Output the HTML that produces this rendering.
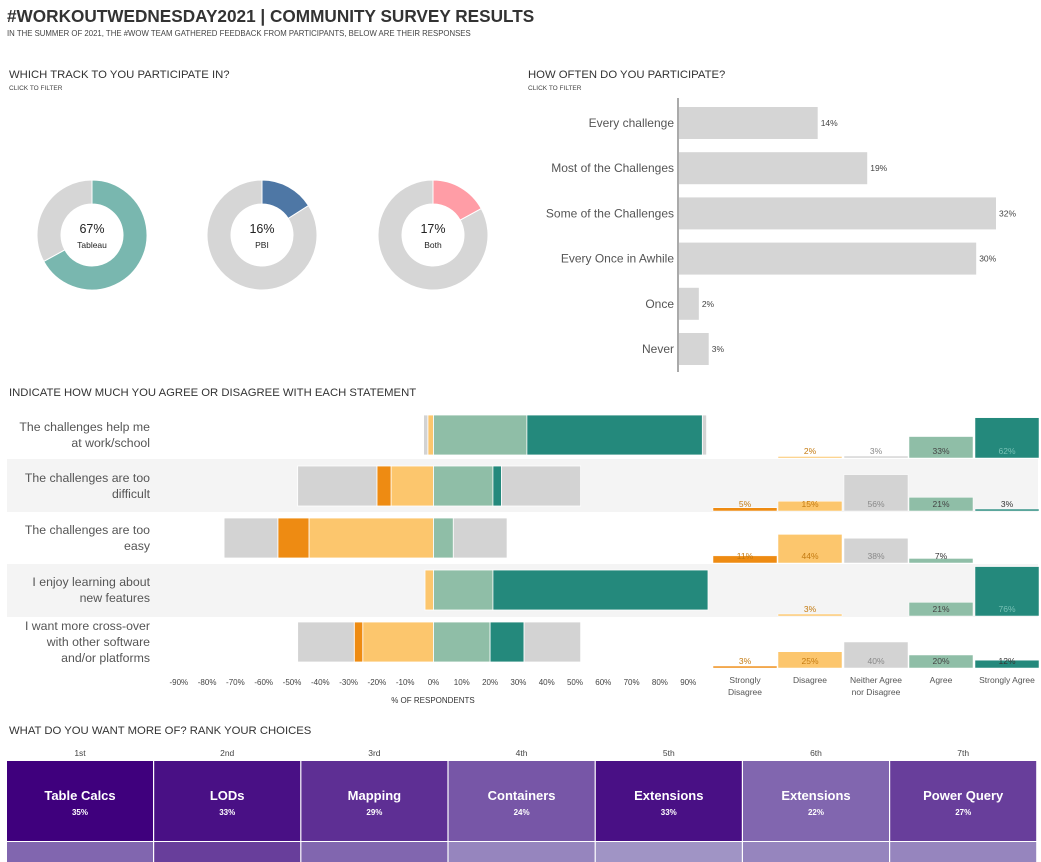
<!DOCTYPE html>
<html><head><meta charset="utf-8">
<style>
body{margin:0;background:#fff;font-family:"Liberation Sans",sans-serif;}
svg{display:block}
text{font-family:"Liberation Sans",sans-serif;}
</style></head>
<body>
<svg id="chart" width="1041" height="862" viewBox="0 0 1041 862" xmlns="http://www.w3.org/2000/svg">
<text x="7" y="22" font-size="17.2" font-weight="bold" fill="#333">#WORKOUTWEDNESDAY2021 | COMMUNITY SURVEY RESULTS</text>
<text x="7" y="36" font-size="7.8" fill="#444">IN THE SUMMER OF 2021, THE #WOW TEAM GATHERED FEEDBACK FROM PARTICIPANTS, BELOW ARE THEIR RESPONSES</text>
<text x="9" y="78" font-size="11.3" fill="#333">WHICH TRACK TO YOU PARTICIPATE IN?</text>
<text x="9" y="90" font-size="6.5" fill="#444">CLICK TO FILTER</text>
<text x="528" y="78" font-size="11.3" fill="#333">HOW OFTEN DO YOU PARTICIPATE?</text>
<text x="528" y="90" font-size="6.5" fill="#444">CLICK TO FILTER</text>
<text x="9" y="396" font-size="11.3" fill="#333">INDICATE HOW MUCH YOU AGREE OR DISAGREE WITH EACH STATEMENT</text>
<text x="9" y="734" font-size="11.3" fill="#333">WHAT DO YOU WANT MORE OF?  RANK YOUR CHOICES</text>
<g id="donuts"></g><g id="freq"></g><g id="likert"></g><g id="multiples"></g><g id="heat"></g>
</svg>
<script>
const NS="http://www.w3.org/2000/svg";
function mk(parent,tag,attrs,txt){const e=document.createElementNS(NS,tag);for(const k in attrs)e.setAttribute(k,attrs[k]);if(txt!==undefined)e.textContent=txt;parent.appendChild(e);return e;}

// ---- donut data
const trackLabels=["Tableau","PBI","Both"];
const trackValues=[67,16,17];
const trackColors=["#79b7af","#4e77a5","#ff9da6"];
// ---- frequency data
const freqCategories=["Every challenge","Most of the Challenges","Some of the Challenges","Every Once in Awhile","Once","Never"];
const freqValues=[14,19,32,30,2,3];
// ---- likert data
const statements=[["The challenges help me","at work/school"],["The challenges are too","difficult"],["The challenges are too","easy"],["I enjoy learning about","new features"],["I want more cross-over","with other software","and/or platforms"]];
const responseLabels=[["Strongly","Disagree"],["Disagree"],["Neither Agree","nor Disagree"],["Agree"],["Strongly Agree"]];
const stronglyDisagree=[0,5,11,0,3];
const disagree=[2,15,44,3,25];
const neutral=[3,56,38,0,40];
const agree=[33,21,7,21,20];
const stronglyAgree=[62,3,0,76,12];
const axisTicks=[-90,-80,-70,-60,-50,-40,-30,-20,-10,0,10,20,30,40,50,60,70,80,90];
// ---- ranking data
const rankLabels=["1st","2nd","3rd","4th","5th","6th","7th"];
const rankTopics=["Table Calcs","LODs","Mapping","Containers","Extensions","Extensions","Power Query"];
const rankValues=[35,33,29,24,33,22,27];
const rankSecond=[22,27,22,18,16,18,18];

// donuts
const dg=document.getElementById('donuts');
const dcx=[92,262,433], dcy=235, R=55, r=31;
function arc(cx,cy,a0,a1){const p=(a,rad)=>[cx+rad*Math.sin(a),cy-rad*Math.cos(a)];const L=(a1-a0)>Math.PI?1:0;
 const [x0,y0]=p(a0,R),[x1,y1]=p(a1,R),[x2,y2]=p(a1,r),[x3,y3]=p(a0,r);
 return `M${x0},${y0}A${R},${R} 0 ${L} 1 ${x1},${y1}L${x2},${y2}A${r},${r} 0 ${L} 0 ${x3},${y3}Z`;}
trackValues.forEach((v,i)=>{
 const g=mk(dg,'g',{});
 
 
 const a=v/100*2*Math.PI;
 const s1=mk(g,'path',{d:arc(dcx[i],dcy,a,2*Math.PI-0.0001),fill:"#d6d6d6",stroke:"#fff","stroke-width":1});
 
 
 const s2=mk(g,'path',{d:arc(dcx[i],dcy,0,a),fill:trackColors[i],stroke:"#fff","stroke-width":1});
 
 
 const t1=mk(g,'text',{x:dcx[i],y:dcy-2,"text-anchor":"middle","font-size":12.5,fill:"#222"},v+"%");
 
 
 const t2=mk(g,'text',{x:dcx[i],y:dcy+13,"text-anchor":"middle","font-size":8.5,fill:"#222"},trackLabels[i]);
 
 
});

// frequency bars
const fg=document.getElementById('freq');
const fx0=678, fscale=317/32;
const axl=mk(fg,'line',{x1:fx0,x2:fx0,y1:98,y2:372,stroke:"#555","stroke-width":1});


freqCategories.forEach((c,i)=>{
 const cy=123+i*45.2;
 const b=mk(fg,'rect',{x:fx0+1,y:cy-16,width:freqValues[i]*fscale,height:32,fill:"#d5d5d5"});
 
 
 const l=mk(fg,'text',{x:674,y:cy+4,"text-anchor":"end","font-size":12,fill:"#555"},c);
 
 
 const v=mk(fg,'text',{x:fx0+1+freqValues[i]*fscale+3,y:cy+3,"font-size":8.5,fill:"#444"},freqValues[i]+"%");
 
 
});

// likert diverging
const lg=document.getElementById('likert');
const zx=433.5, px=2.83;
const X=v=>zx+v*px;
const cols={sd:"#ee8b12",d:"#fcc66d",n:"#d3d3d3",a:"#8fbea7",sa:"#24897c"};
const rowTop=[411,459,512,564,617], rowH=[48,53,52,53,52];
statements.forEach((s,i)=>{
 if(i%2===1){const bg=mk(lg,'rect',{x:7,y:rowTop[i],width:1031,height:rowH[i],fill:"#f4f4f4"});
  
  }
});
statements.forEach((s,i)=>{
 const cy=[435,486,538,590,642][i];
 const y=cy-20,h=40;
 const segs=[];
 let l=0;
 segs.push(['d',-disagree[i],0]); l=-disagree[i];
 segs.push(['sd',l-stronglyDisagree[i],l]); l-=stronglyDisagree[i];
 segs.push(['n',l-neutral[i]/2,l]);
 let r=0;
 segs.push(['a',0,agree[i]]); r=agree[i];
 segs.push(['sa',r,r+stronglyAgree[i]]); r+=stronglyAgree[i];
 segs.push(['n',r,r+neutral[i]/2]);
 segs.forEach(([k,a,b])=>{ if(b-a<=0)return;
  const e=mk(lg,'rect',{x:X(a),y:y,width:X(b)-X(a),height:h,fill:cols[k],stroke:"#fff","stroke-width":0.8});
  
  
 });
 const n=s.length, start=cy-(n-1)*8+4;
 s.forEach((line,j)=>{const t=mk(lg,'text',{x:150,y:start+j*16,"text-anchor":"end","font-size":12.3,fill:"#555"},line);
  
  });
});
axisTicks.forEach(t=>{const e=mk(lg,'text',{x:X(t),y:685,"text-anchor":"middle","font-size":8,fill:"#444"},t+"%");
 
 });
const xt=mk(lg,'text',{x:433,y:703,"text-anchor":"middle","font-size":8,fill:"#333"},"% OF RESPONDENTS");



// small multiples
const mg=document.getElementById('multiples');
const mx=[713,778,844,909,975], mw=64, hs=0.65;
const series=[stronglyDisagree,disagree,neutral,agree,stronglyAgree];
const sCols=[cols.sd,cols.d,cols.n,cols.a,cols.sa];
const labCols=["#c47a10","#c47a10","#888","#444","#79c2b6"];
statements.forEach((s,i)=>{
 const base=rowTop[i]+rowH[i]-1;
 series.forEach((arr,j)=>{
  const v=arr[i]; if(v<=0) return;
  const h=Math.max(1.5,v*hs);
  const e=mk(mg,'rect',{x:mx[j],y:base-h,width:mw,height:h,fill:sCols[j],stroke:"#fff","stroke-width":0.5});
  
  
  let c=labCols[j]; if(j===4&&v<20)c="#333"; if(j===3&&v<10)c="#333";
  const t=mk(mg,'text',{x:mx[j]+mw/2,y:base-4,"text-anchor":"middle","font-size":8.5,fill:c},v+"%");
  
  
 });
});
responseLabels.forEach((ls,j)=>{ls.forEach((l,k)=>{const t=mk(mg,'text',{x:mx[j]+mw/2,y:683+k*12,"text-anchor":"middle","font-size":8.5,fill:"#555"},l);
 
 });});

// heatmap
const hg=document.getElementById('heat');
const cellX=i=>7+i*147.2, cw=146;
function purple(v){const t=Math.max(0,Math.min(1,(v-14)/(35-14)));
 const c0=[170,164,205],c1=[63,0,125];return `rgb(${c0.map((c,k)=>Math.round(c+(c1[k]-c)*t)).join(',')})`;}
rankLabels.forEach((lab,i)=>{
 const t=mk(hg,'text',{x:cellX(i)+cw/2,y:756,"text-anchor":"middle","font-size":8.5,fill:"#444"},lab);
 
 
 const c=mk(hg,'rect',{x:cellX(i),y:761,width:cw,height:80,fill:purple(rankValues[i])});
 
 
 const tt=mk(hg,'text',{x:cellX(i)+cw/2,y:800,"text-anchor":"middle","font-size":13,"font-weight":"bold",fill:"#fff"},rankTopics[i]);
 
 
 const tv=mk(hg,'text',{x:cellX(i)+cw/2,y:815,"text-anchor":"middle","font-size":8,"font-weight":"bold",fill:"#fff"},rankValues[i]+"%");
 
 
 const c2=mk(hg,'rect',{x:cellX(i),y:842,width:cw,height:25,fill:purple(rankSecond[i])});
 
 
});
</script>
</body></html>
